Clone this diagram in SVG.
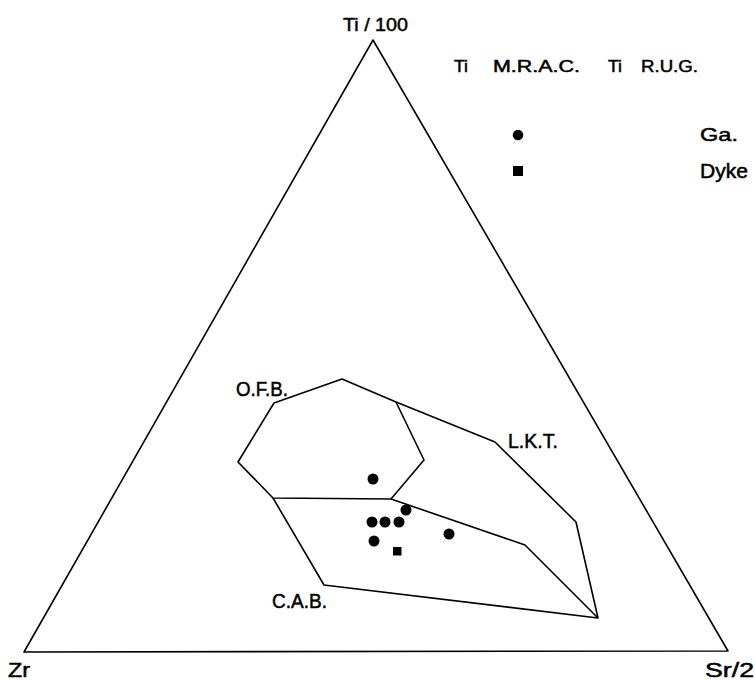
<svg xmlns="http://www.w3.org/2000/svg" width="755" height="680" viewBox="0 0 755 680">
<style>
.ln{fill:none;stroke:#000;stroke-width:1.6;stroke-linejoin:round}
.t{font-family:"Liberation Sans",Arial,sans-serif;fill:#000;stroke:#000;stroke-width:0.5}
.pt{fill:#000}
</style>
<rect width="755" height="680" fill="#fff"/>
<g id="triangle">
<polygon class="ln" points="373,40 24,652 728,651"/>
</g>
<g id="connectors">
<polygon class="ln" points="274,403 342,379 396,402 424,460 391,499 273,498 238,462"/>
<polyline class="ln" points="396,402 495,442 576,522 598,618"/>
<polyline class="ln" points="273,498 324,585 598,618 525,545 391,499"/>
</g>
<g id="labels">
<text class="t" x="343" y="31" font-size="19" textLength="65" lengthAdjust="spacingAndGlyphs">Ti / 100</text>
<text class="t" x="8" y="677" font-size="20" textLength="22" lengthAdjust="spacingAndGlyphs">Zr</text>
<text class="t" x="705" y="677" font-size="20" textLength="49" lengthAdjust="spacingAndGlyphs">Sr/2</text>
<text class="t" x="236" y="396" font-size="20" textLength="52" lengthAdjust="spacingAndGlyphs">O.F.B.</text>
<text class="t" x="508" y="448" font-size="21" textLength="50" lengthAdjust="spacingAndGlyphs">L.K.T.</text>
<text class="t" x="272" y="608" font-size="20" textLength="55" lengthAdjust="spacingAndGlyphs">C.A.B.</text>
</g>
<g id="title">
<text class="t" x="454" y="72" font-size="16.5" textLength="14" lengthAdjust="spacingAndGlyphs">Ti</text>
<text class="t" x="493" y="72" font-size="16.5" textLength="87" lengthAdjust="spacingAndGlyphs">M.R.A.C.</text>
<text class="t" x="608" y="72" font-size="16.5" textLength="14" lengthAdjust="spacingAndGlyphs">Ti</text>
<text class="t" x="641" y="72" font-size="16.5" textLength="57" lengthAdjust="spacingAndGlyphs">R.U.G.</text>
</g>
<g id="legend">
<circle class="pt" cx="518" cy="135" r="5.3"/>
<rect class="pt" x="513" y="166" width="10" height="10"/>
<text class="t" x="700" y="141" font-size="19" textLength="38" lengthAdjust="spacingAndGlyphs">Ga.</text>
<text class="t" x="700" y="178" font-size="20" textLength="48" lengthAdjust="spacingAndGlyphs">Dyke</text>
</g>
<g id="data">
<circle class="pt" cx="373" cy="479" r="5.5"/>
<circle class="pt" cx="406" cy="510" r="5.5"/>
<circle class="pt" cx="372" cy="522" r="5.5"/>
<circle class="pt" cx="385" cy="522" r="5.5"/>
<circle class="pt" cx="399" cy="522" r="5.5"/>
<circle class="pt" cx="374" cy="541" r="5.5"/>
<circle class="pt" cx="449" cy="534" r="5.5"/>
<rect class="pt" x="393" y="547" width="8.5" height="8.5"/>
</g>
</svg>
